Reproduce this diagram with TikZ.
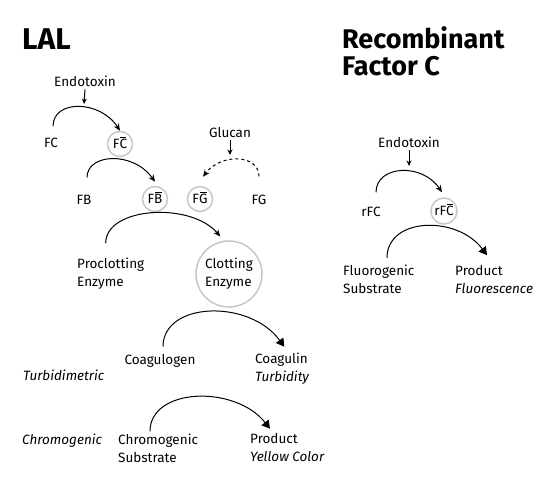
\documentclass[tikz,border=0pt]{standalone}
\usepackage{fontspec}
\setmainfont{Fira Sans}
\usetikzlibrary{arrows.meta,positioning}
\newcommand\txtsize{\fontsize{13.5}{18}\selectfont}
\newcommand\barletter[1]{{\setbox0\hbox{#1}\rlap{\kern0.8pt\smash{\rule[\dimexpr\ht0+1.3pt\relax]{\dimexpr\wd0-1.6pt\relax}{0.7pt}}}#1}}

\begin{document}
\begin{tikzpicture}[
    x=1pt, y=-1pt,
    every node/.style={font=\txtsize, inner sep=2pt},
    headline/.style={font=\fontsize{27}{27}\selectfont\bfseries, inner sep=0pt},
    ring/.style={circle, draw=black!22, line width=1.5pt, inner sep=0pt, minimum size=25pt},
    flow/.style={-{Stealth[length=7pt,width=6pt]}, line width=1pt},
    bigflow/.style={-{Triangle[length=8pt,width=9pt]}, line width=1pt},
    trigger/.style={-{Stealth[length=5.5pt,width=5pt]}, line width=1pt}
]
\useasboundingbox (0,0) rectangle (550,478);
\node[headline, font=\fontsize{30}{30}\selectfont\bfseries, anchor=base west] (lal) at (22,50) {LAL};
\node[headline, anchor=west, align=left] (rfctitle) at (342,51.5) {Recombinant\\Factor C};

\node[anchor=base] (endo) at (85,87) {Endotoxin};
\node[anchor=base] (fc) at (51,148) {FC};
\node[ring] (fcb) at (120,144) {F\barletter{C}};
\node[anchor=base] (glucan) at (230,138) {Glucan};
\node[anchor=base] (fb) at (84,205) {FB};
\node[ring] (fbb) at (155,199) {F\barletter{B}};
\node[ring] (fgb) at (200,199) {F\barletter{G}};
\node[anchor=base] (fg) at (259,205) {FG};
\node[anchor=west, align=left] (procl) at (75,274) {Proclotting\\Enzyme};
\node[ring, minimum size=66pt, align=left] (clot) at (229,274) {Clotting\\Enzyme};
\node[anchor=base] (coag) at (160,365) {Coagulogen};
\node[anchor=west, align=left] (coagulin) at (253,368.6) {Coagulin\\\textit{Turbidity}};
\node[anchor=base west] (turbid) at (21,381) {\textit{Turbidimetric}};
\node[anchor=base west] (chromo) at (20,444.5) {\textit{Chromogenic}};
\node[anchor=west, align=left] (chromsub) at (116,448) {Chromogenic\\Substrate};
\node[anchor=west, align=left] (product) at (248,448) {Product\\\textit{Yellow Color}};

\node[anchor=base] (endo2) at (409,148) {Endotoxin};
\node[anchor=base] (rfc) at (371,217) {rFC};
\node[ring, minimum size=26pt] (rfcb) at (444,211) {rF\barletter{C}};
\node[anchor=west, align=left] (fluoro) at (341,279.5) {Fluorogenic\\Substrate};
\node[anchor=west, align=left] (product2) at (453,279.5) {Product\\\textit{Fluorescence}};

\coordinate (fcin) at (84,104);
\coordinate (fgin) at (230,155);
\coordinate (rfcin) at (409,166);

\draw[trigger] (endo.south) -- (fcin);
\draw[trigger] (glucan.south) -- (fgin);
\draw[trigger] (endo2.south) -- (rfcin);

\draw[flow] ([xshift=2pt,yshift=10pt]fc.north) .. controls +(0,-27) and +(-20,-31) .. (fcb.north);
\draw[flow] ([xshift=3pt,yshift=16pt]fb.north) .. controls +(0,-24) and +(-22,-31) .. ([yshift=4pt]fbb.north);
\draw[flow, dashed] ([yshift=17pt]fg.north) .. controls +(0,-22) and +(18,-24) .. ([xshift=3pt,yshift=9pt]fgb.north);
\draw[flow] ([xshift=-5pt,yshift=13pt]procl.north) .. controls +(0,-36) and +(-30,-35) .. ([yshift=5pt]clot.105);
\draw[bigflow] ([xshift=3pt,yshift=6pt]coag.north) .. controls +(0,-45) and +(-35,-48) .. ([xshift=2pt,yshift=4pt]coagulin.north);
\draw[bigflow] ([xshift=34pt]chromsub.north west) .. controls +(0,-44) and +(-35,-44) .. ([xshift=22pt,yshift=3pt]product.north west);

\draw[bigflow] ([xshift=46pt,yshift=5pt]fluoro.north west) .. controls +(0,-41) and +(-30,-40) .. ([xshift=34pt,yshift=8pt]product2.north west);
\draw[flow] ([xshift=5pt,yshift=13pt]rfc.north) .. controls +(0,-27) and +(-20,-30) .. ([xshift=-2pt,yshift=5pt]rfcb.north);
\end{tikzpicture}
\end{document}
